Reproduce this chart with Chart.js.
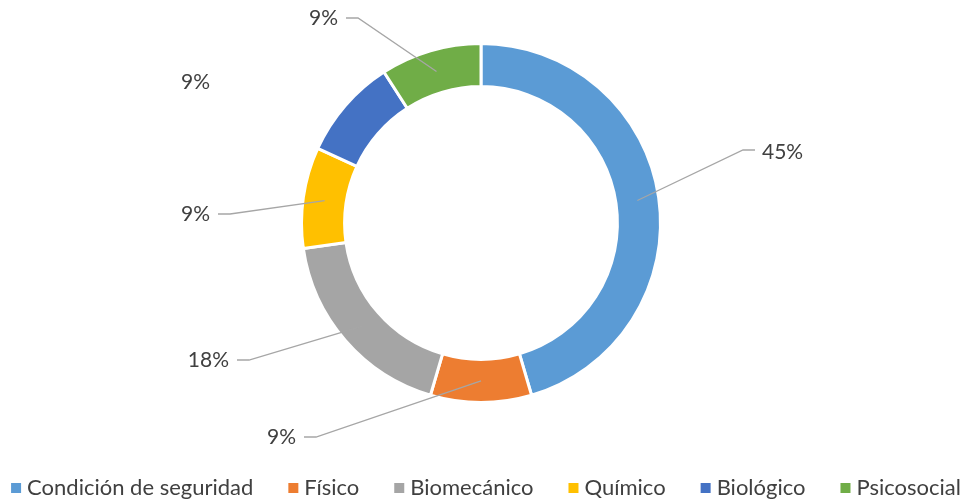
<!DOCTYPE html>
<html>
<head>
<meta charset="utf-8">
<script src="https://cdn.jsdelivr.net/npm/chart.js@4.4.0/dist/chart.umd.min.js"></script>
<style>
  html, body { margin: 0; padding: 0; background: #fff; }
  #wrap { width: 966px; height: 500px; }
</style>
</head>
<body>
<div id="wrap"><canvas id="donut" width="966" height="500"></canvas></div>
<script>
var categories = ["Condición de seguridad", "Físico", "Biomecánico", "Químico", "Biológico", "Psicosocial"];
var values = [5, 1, 2, 1, 1, 1];
var colors = ["#5B9BD5", "#ED7D31", "#A5A5A5", "#FFC000", "#4472C4", "#70AD47"];

// where each percent label sits (text anchor), and which side the text is on
var labelPos = [[762, 152], [296, 437], [229, 360], [210, 214], [210, 82], [338, 18]];
var labelSide = ["right", "left", "left", "left", "left", "left"];
var showLeader = [true, true, true, true, false, true];

var FONT = "Lato, 'Open Sans', sans-serif";
var TEXT_COLOR = '#404040';

var leaderLabels = {
    id: 'leaderLabels',
    afterDatasetsDraw: function (chart) {
        var ctx = chart.ctx;
        var meta = chart.getDatasetMeta(0);
        var total = values.reduce(function (a, b) { return a + b; }, 0);
        ctx.save();
        ctx.font = "21px " + FONT;
        ctx.textBaseline = 'middle';
        meta.data.forEach(function (arc, i) {
            var p = arc.getProps(['x', 'y', 'startAngle', 'endAngle', 'innerRadius', 'outerRadius'], true);
            var mid = (p.startAngle + p.endAngle) / 2;
            var r = (p.innerRadius + p.outerRadius) / 2;
            var ax = p.x + Math.cos(mid) * r;
            var ay = p.y + Math.sin(mid) * r;
            var tx = labelPos[i][0], ty = labelPos[i][1];
            var txt = Math.round(values[i] / total * 100) + '%';
            if (showLeader[i]) {
                ctx.strokeStyle = '#A6A6A6';
                ctx.lineWidth = 1.3;
                ctx.beginPath();
                if (labelSide[i] === 'right') {
                    ctx.moveTo(ax, ay);
                    ctx.lineTo(tx - 19, ty - 2);
                    ctx.lineTo(tx - 7, ty - 2);
                } else {
                    ctx.moveTo(tx + 8, ty);
                    ctx.lineTo(tx + 20, ty);
                    ctx.lineTo(ax, ay);
                }
                ctx.stroke();
            }
            ctx.fillStyle = TEXT_COLOR;
            ctx.textAlign = labelSide[i] === 'right' ? 'left' : 'right';
            ctx.fillText(txt, tx, ty);
        });
        ctx.restore();
    }
};

// legend along the bottom, drawn like the office one (small square, tight gap)
var bottomLegend = {
    id: 'bottomLegend',
    afterDraw: function (chart) {
        var ctx = chart.ctx;
        var box = 10, gap = 6, itemGap = 35, y = 488;
        ctx.save();
        ctx.font = "22px " + FONT;
        ctx.textBaseline = 'middle';
        ctx.textAlign = 'left';
        var widths = categories.map(function (c) { return ctx.measureText(c).width; });
        var total = widths.reduce(function (a, w) { return a + box + gap + w; }, 0) + itemGap * (categories.length - 1);
        var x = 486 - total / 2;
        categories.forEach(function (c, i) {
            ctx.fillStyle = colors[i];
            ctx.fillRect(x, y - box / 2, box, box);
            ctx.fillStyle = TEXT_COLOR;
            ctx.fillText(c, x + box + gap, y);
            x += box + gap + widths[i] + itemGap;
        });
        ctx.restore();
    }
};

var ctxD = document.getElementById("donut").getContext('2d');
var myDonut = new Chart(ctxD, {
    type: 'doughnut',
    data: {
        labels: categories,
        datasets: [{
            data: values,
            backgroundColor: colors,
            borderColor: '#FFFFFF',
            borderWidth: 3
        }]
    },
    options: {
        responsive: false,
        animation: false,
        cutout: '76%',
        layout: { padding: { top: 42, bottom: 96, left: 0, right: 4 } },
        plugins: {
            legend: { display: false },
            tooltip: { enabled: false }
        }
    },
    plugins: [leaderLabels, bottomLegend]
});
</script>
</body>
</html>
